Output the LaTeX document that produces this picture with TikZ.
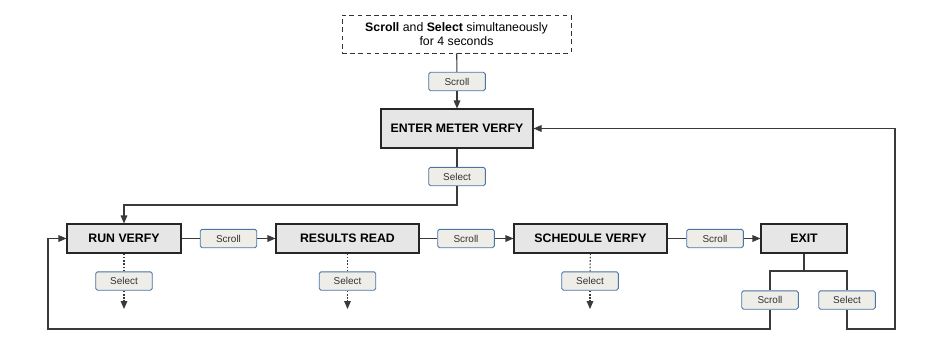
\documentclass[tikz,border=0pt]{standalone}
\usepackage{fontspec}
\setmainfont{Liberation Sans}
\usepackage{xcolor}
\usetikzlibrary{arrows.meta}
\usetikzlibrary{positioning}

\definecolor{boxfill}{HTML}{E6E6E6}
\definecolor{keyfill}{HTML}{EEEDE8}
\definecolor{keyline}{HTML}{4A75A6}
\definecolor{wire}{HTML}{3A3A3A}

\tikzset{
    menubox/.style={draw=black!85,fill=boxfill,line width=0.9pt,inner sep=0pt,
        minimum height=0.87cm,font=\fontsize{10.5}{12}\selectfont\bfseries},
    keybox/.style={draw=keyline,fill=keyfill,line width=0.7pt,rounded corners=1.5pt,
        inner sep=0pt,minimum width=1.7cm,minimum height=0.55cm,
        text=black!80,font=\fontsize{8.5}{10}\selectfont},
    wireline/.style={draw=wire,line width=0.9pt},
    >={Triangle[length=2.4mm,width=2mm]}
}

\begin{document}
\begin{tikzpicture}[x=0.03cm,y=-0.03cm]
        \useasboundingbox (0,0) rectangle (927,352);

        % start condition
        \node[draw=black!80,dashed,dash pattern=on 4pt off 3pt,line width=0.8pt,
            minimum width=6.87cm,minimum height=1.14cm,align=center,
            font=\fontsize{10.5}{12}\selectfont] (start) at (456.5,34)
            {\textbf{Scroll} and \textbf{Select} simultaneously\\for 4 seconds};
        \node[keybox] (k0) at (457,81.5) {Scroll};
        \node[menubox,minimum width=4.56cm,minimum height=1.17cm] (enter) at (457,128.5) {ENTER METER VERFY};
        \node[keybox] (k1) at (457,176.5) {Select};

        % menu row
        \node[menubox,minimum width=3.42cm] (run) at (124,238.5) {RUN VERFY};
        \node[menubox,minimum width=4.29cm] (results) at (347.5,238.5) {RESULTS READ};
        \node[menubox,minimum width=4.59cm] (sched) at (590.5,238.5) {SCHEDULE VERFY};
        \node[menubox,minimum width=2.58cm] (exit) at (804,238.5) {EXIT};
        \node[keybox] (k2) at (228.5,238.5) {Scroll};
        \node[keybox] (k3) at (466,238.5) {Scroll};
        \node[keybox] (k4) at (715,238.5) {Scroll};

        % select below each item
        \foreach \item/\xpos in {run/124,results/347.5,sched/590} {
            \node[keybox] (sel\item) at (\xpos,281) {Select};
            \coordinate (down\item) at (\xpos,309);
            \draw[wireline,dash pattern=on 1.4pt off 1.4pt] (\item) -- (sel\item);
            \draw[wireline,dash pattern=on 1.4pt off 1.4pt,->] (sel\item) -- (down\item);
        }

        % exit keys
        \node[keybox] (exitscroll) at (770,300) {Scroll};
        \node[keybox] (exitselect) at (847,300) {Select};
        \coordinate (split) at (804,271);
        \coordinate (turn) at (457,205);
        \coordinate (backleft) at (48,329);
        \coordinate (backright) at (895,329);

        % connectors
        \draw[wireline] (start) -- (k0);
        \draw[wireline,->] (k0) -- (enter);
        \draw[wireline] (enter) -- (k1);
        \draw[wireline,->] (k1) -- (turn) -| (run);
        \draw[wireline] (run) -- (k2);
        \draw[wireline,->] (k2) -- (results);
        \draw[wireline] (results) -- (k3);
        \draw[wireline,->] (k3) -- (sched);
        \draw[wireline] (sched) -- (k4);
        \draw[wireline,->] (k4) -- (exit);
        \draw[wireline] (exit) -- (split);
        \draw[wireline] (exitscroll) |- (split) -| (exitselect);
        \draw[wireline,->] (exitscroll) |- (backleft) |- (run);
        \draw[wireline,->] (exitselect) |- (backright) |- (enter);
\end{tikzpicture}
\end{document}
